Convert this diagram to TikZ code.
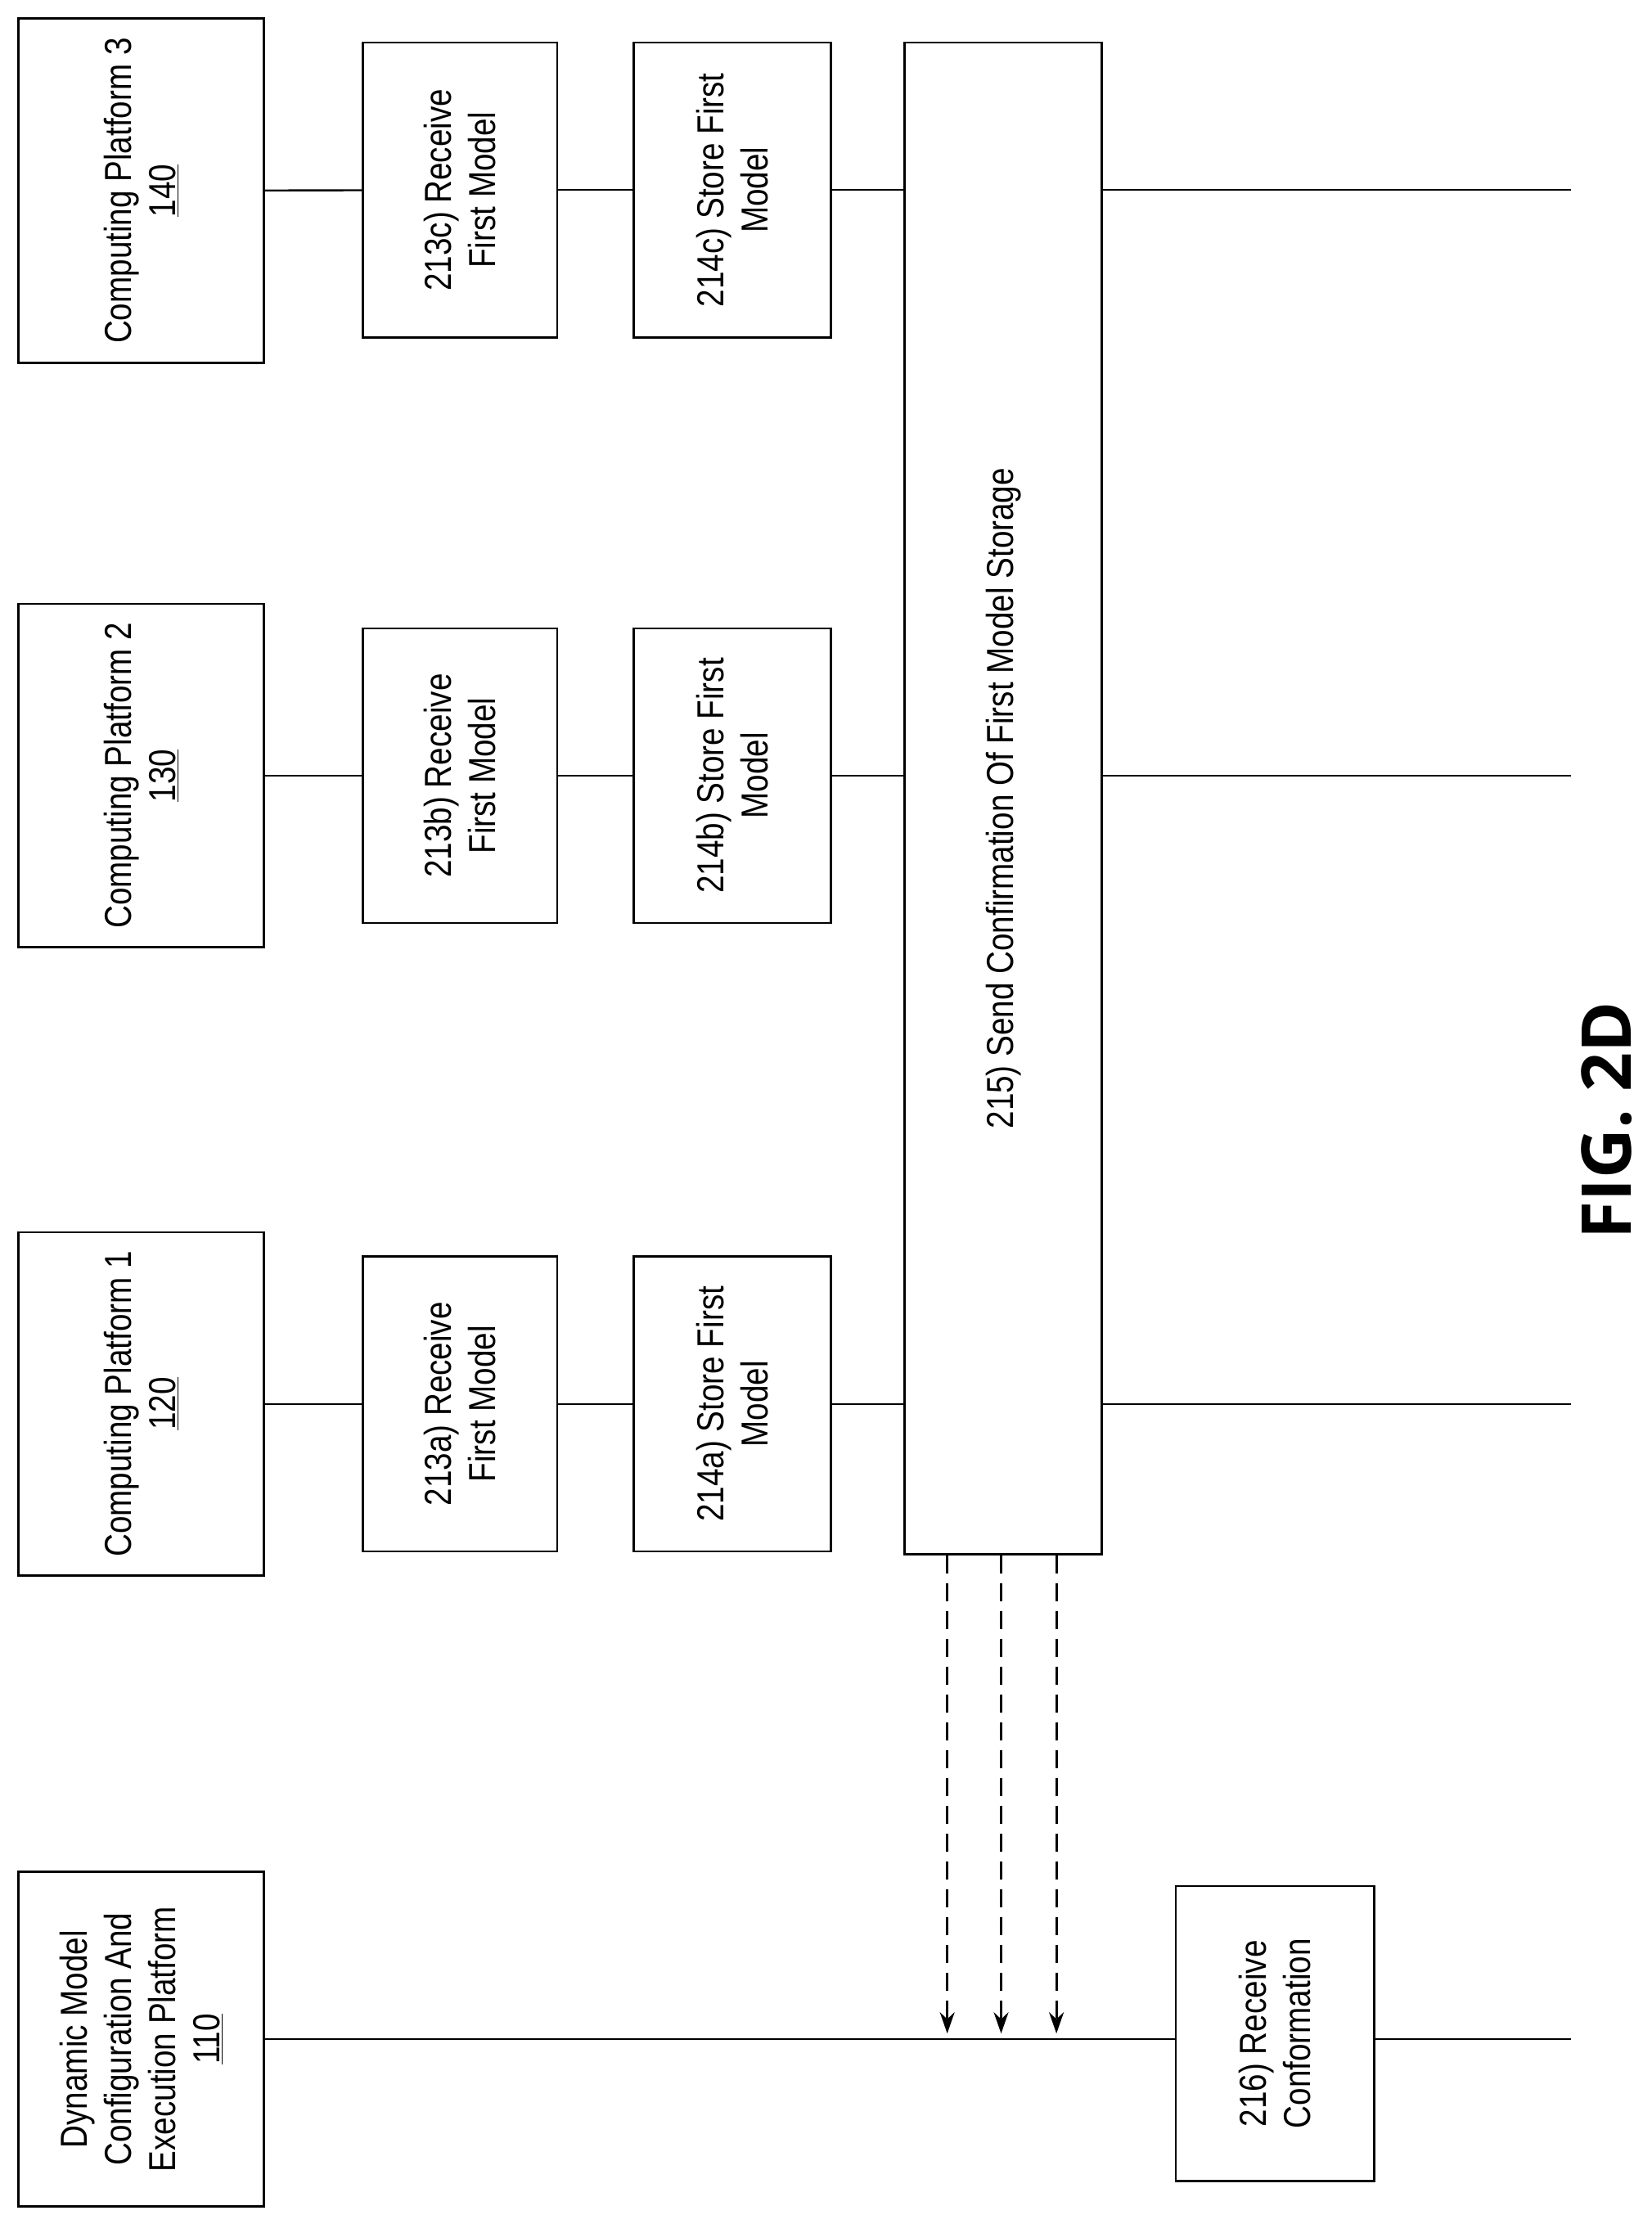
\documentclass[tikz,border=0pt]{standalone}
\usepackage{fontspec}
\setmainfont{Liberation Sans}[FakeStretch=0.84]
\newfontfamily\figfont{Open Sans}
\usetikzlibrary{arrows.meta}
\begin{document}
\begin{tikzpicture}[x=1.733pt,y=-1.733pt,
  box/.style={draw,line width=2.4pt,inner sep=0,minimum width=#1},
  lbl/.style={rotate=90,align=center,font=\fontsize{46}{54}\selectfont},
  ln/.style={line width=2.4pt},
  da/.style={line width=3pt,dash pattern=on 22pt off 12pt,-{Stealth[length=26pt,width=18pt]}}]
\useasboundingbox (0,0) rectangle (1165,1562);
\node[box,minimum width=173*1.733pt,minimum height=243*1.733pt] (cp3) at (99.5,134.5) {};
\node[lbl] at (cp3) {Computing Platform 3\\\underline{140}};
\node[box,minimum width=137*1.733pt,minimum height=208*1.733pt] (r3) at (324.5,134) {};
\node[lbl] at (r3) {213c) Receive\\First Model};
\node[box,minimum width=139*1.733pt,minimum height=208*1.733pt] (s3) at (516.5,134) {};
\node[lbl] at (s3) {214c) Store First\\Model};
\node[box,minimum width=139*1.733pt,minimum height=1066*1.733pt] (big) at (707.5,563) {};
\node[lbl] at (big) {215) Send Confirmation Of First Model Storage};
\node[box,minimum width=173*1.733pt,minimum height=242*1.733pt] (cp2) at (99.5,547) {};
\node[lbl] at (cp2) {Computing Platform 2\\\underline{130}};
\node[box,minimum width=137*1.733pt,minimum height=208*1.733pt] (r2) at (324.5,547) {};
\node[lbl] at (r2) {213b) Receive\\First Model};
\node[box,minimum width=139*1.733pt,minimum height=208*1.733pt] (s2) at (516.5,547) {};
\node[lbl] at (s2) {214b) Store First\\Model};
\node[box,minimum width=173*1.733pt,minimum height=242*1.733pt] (cp1) at (99.5,990) {};
\node[lbl] at (cp1) {Computing Platform 1\\\underline{120}};
\node[box,minimum width=137*1.733pt,minimum height=208*1.733pt] (r1) at (324.5,990) {};
\node[lbl] at (r1) {213a) Receive\\First Model};
\node[box,minimum width=139*1.733pt,minimum height=208*1.733pt] (s1) at (516.5,990) {};
\node[lbl] at (s1) {214a) Store First\\Model};
\node[box,minimum width=173*1.733pt,minimum height=236*1.733pt] (dm) at (99.5,1438) {};
\node[lbl] at (dm) {Dynamic Model\\Configuration And\\Execution Platform\\\underline{110}};
\node[box,minimum width=140*1.733pt,minimum height=208*1.733pt] (rc) at (899,1434) {};
\node[lbl] at (rc) {216) Receive\\Conformation};
\coordinate (e3) at (1108,134);
\coordinate (e2) at (1108,547);
\coordinate (e1) at (1108,990);
\coordinate (e0) at (1108,1438);
\foreach \i in {1,2,3}{
  \draw[ln] (cp\i) -- (r\i);
  \draw[ln] (r\i) -- (s\i);
  \draw[ln] (s\i) -- (big.west |- s\i.east);
  \draw[ln] (big.east |- s\i.east) -- (e\i);
}
\draw[ln] (dm.east) -- (rc.west |- dm.east);
\draw[ln] (rc.east |- dm.east) -- (e0);
\coordinate (t1) at (668,1434);
\coordinate (t2) at (706,1434);
\coordinate (t3) at (745,1434);
\draw[da] (big.south -| t1) -- (t1);
\draw[da] (big.south -| t2) -- (t2);
\draw[da] (big.south -| t3) -- (t3);
\node[rotate=90,font=\figfont\bfseries\fontsize{84}{92}\selectfont] (fig) at (1133,790) {FIG. 2D};
\end{tikzpicture}
\end{document}
